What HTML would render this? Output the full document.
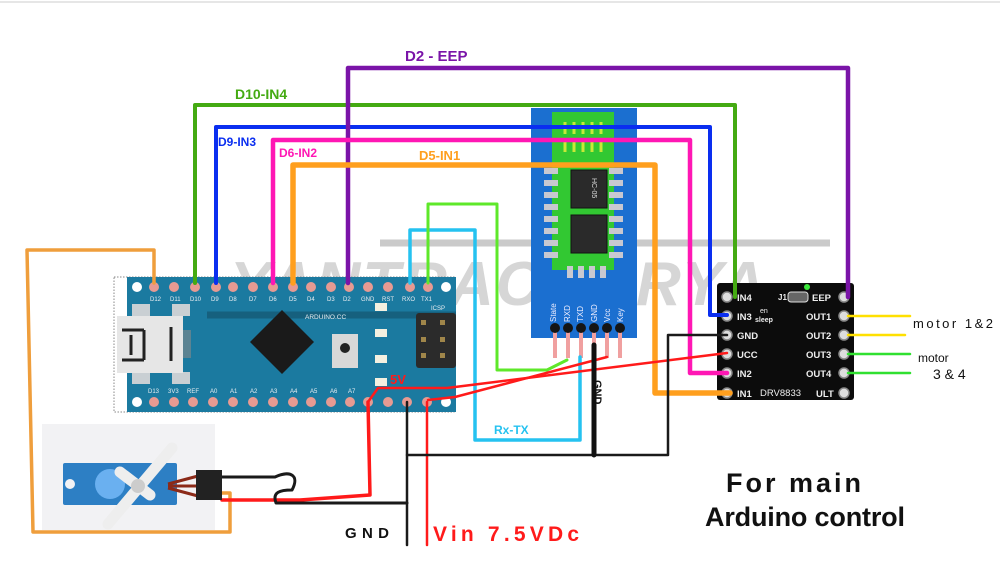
<!DOCTYPE html>
<html><head><meta charset="utf-8"><style>
html,body{margin:0;padding:0;background:#fff;}
svg{display:block}
text{font-family:"Liberation Sans",sans-serif}
</style></head><body>
<svg width="1000" height="564" viewBox="0 0 1000 564" xmlns="http://www.w3.org/2000/svg">
<rect width="1000" height="564" fill="#fff"/>
<line x1="0" y1="2" x2="1000" y2="2" stroke="#ccc" stroke-width="1"/>

<!-- watermark -->
<line x1="380" y1="243" x2="830" y2="243" stroke="#bdbdbd" stroke-width="7" opacity="0.8"/>
<text x="230" y="305" font-size="62" font-weight="bold" font-style="italic" fill="#cfcfcf" opacity="0.85" letter-spacing="2">YANTRACHARYA</text>

<!-- Arduino Nano -->
<rect x="114" y="277" width="340" height="135" fill="none" stroke="#888" stroke-dasharray="1.5,1.5" stroke-width="1"/>
<rect x="127" y="277" width="329" height="135" fill="#1b7aa0"/>
<line x1="207" y1="315" x2="456" y2="315" stroke="#16607e" stroke-width="7"/>
<rect x="132" y="304" width="18" height="12" fill="#c9cfd3"/><rect x="172" y="304" width="18" height="12" fill="#c9cfd3"/>
<rect x="132" y="372" width="18" height="12" fill="#c9cfd3"/><rect x="172" y="372" width="18" height="12" fill="#c9cfd3"/>
<rect x="117" y="316" width="66" height="57" fill="#e6e6e6"/>
<path d="M122 330h22M122 360h22M144 330v30M131 335v20M171 327v34" stroke="#222" stroke-width="3" fill="none"/>
<rect x="183" y="330" width="8" height="28" fill="#888" opacity="0.6"/>
<polygon points="250,342 282,310 314,342 282,374" fill="#1a1a1a"/>
<rect x="332" y="334" width="26" height="34" fill="#d8d8d8"/><circle cx="345" cy="348" r="5" fill="#222"/>
<rect x="375" y="303" width="12" height="8" fill="#f4f0e0"/><rect x="375" y="329" width="12" height="8" fill="#f4f0e0"/>
<rect x="375" y="355" width="12" height="8" fill="#f4f0e0"/><rect x="375" y="378" width="12" height="8" fill="#f4f0e0"/>
<rect x="416" y="313" width="40" height="55" rx="3" fill="#2b2b2b"/>
<g fill="#a0864a"><rect x="421" y="320" width="5" height="5"/><rect x="440" y="320" width="5" height="5"/><rect x="421" y="337" width="5" height="5"/><rect x="440" y="337" width="5" height="5"/><rect x="421" y="353" width="5" height="5"/><rect x="440" y="353" width="5" height="5"/></g>
<text x="305" y="319" font-size="6.5" fill="#e8eef2">ARDUINO.CC</text>
<text x="431" y="310" font-size="6" fill="#e8eef2">ICSP</text>
<g font-size="6" fill="#e8eef2">
<text x="150" y="301">D12</text><text x="170" y="301">D11</text><text x="190" y="301">D10</text><text x="211" y="301">D9</text><text x="229" y="301">D8</text><text x="249" y="301">D7</text><text x="269" y="301">D6</text><text x="289" y="301">D5</text><text x="307" y="301">D4</text><text x="327" y="301">D3</text><text x="343" y="301">D2</text><text x="361" y="301">GND</text><text x="382" y="301">RST</text><text x="402" y="301">RXO</text><text x="421" y="301">TX1</text>
<text x="148" y="393">D13</text><text x="168" y="393">3V3</text><text x="187" y="393">REF</text><text x="210" y="393">A0</text><text x="230" y="393">A1</text><text x="250" y="393">A2</text><text x="270" y="393">A3</text><text x="290" y="393">A4</text><text x="310" y="393">A5</text><text x="330" y="393">A6</text><text x="348" y="393">A7</text>
</g>
<g fill="#e79a92">
<circle cx="154" cy="287" r="5"/><circle cx="174" cy="287" r="5"/><circle cx="195" cy="287" r="5"/><circle cx="216" cy="287" r="5"/><circle cx="233" cy="287" r="5"/><circle cx="253" cy="287" r="5"/><circle cx="273" cy="287" r="5"/><circle cx="293" cy="287" r="5"/><circle cx="311" cy="287" r="5"/><circle cx="331" cy="287" r="5"/><circle cx="349" cy="287" r="5"/><circle cx="368" cy="287" r="5"/><circle cx="388" cy="287" r="5"/><circle cx="410" cy="287" r="5"/><circle cx="428" cy="287" r="5"/>
<circle cx="154" cy="402" r="5"/><circle cx="174" cy="402" r="5"/><circle cx="193" cy="402" r="5"/><circle cx="213" cy="402" r="5"/><circle cx="233" cy="402" r="5"/><circle cx="253" cy="402" r="5"/><circle cx="273" cy="402" r="5"/><circle cx="293" cy="402" r="5"/><circle cx="311" cy="402" r="5"/><circle cx="331" cy="402" r="5"/><circle cx="350" cy="402" r="5"/><circle cx="368" cy="402" r="5"/><circle cx="388" cy="402" r="5"/><circle cx="407" cy="402" r="5"/><circle cx="427" cy="402" r="5"/>
</g>
<circle cx="137" cy="287" r="5" fill="#fff"/><circle cx="446" cy="287" r="5" fill="#fff"/>
<circle cx="137" cy="402" r="5" fill="#fff"/><circle cx="446" cy="402" r="5" fill="#fff"/>

<!-- HC-05 -->
<rect x="531" y="108" width="106" height="230" fill="#1b6fd0"/>
<rect x="552" y="112" width="62" height="60" fill="#32c832"/>
<g stroke="#c8e838" stroke-width="3" fill="none"><path d="M565 122v12M574 122v12M583 122v12M592 122v12M601 122v12M565 140v12M574 140v12M583 140v12M592 140v12M601 140v12"/></g>
<rect x="552" y="160" width="62" height="110" fill="#32c832"/>
<g fill="#c8c8d0">
<rect x="544" y="168" width="14" height="6"/><rect x="544" y="180" width="14" height="6"/><rect x="544" y="192" width="14" height="6"/><rect x="544" y="204" width="14" height="6"/><rect x="544" y="216" width="14" height="6"/><rect x="544" y="228" width="14" height="6"/><rect x="544" y="240" width="14" height="6"/><rect x="544" y="252" width="14" height="6"/>
<rect x="609" y="168" width="14" height="6"/><rect x="609" y="180" width="14" height="6"/><rect x="609" y="192" width="14" height="6"/><rect x="609" y="204" width="14" height="6"/><rect x="609" y="216" width="14" height="6"/><rect x="609" y="228" width="14" height="6"/><rect x="609" y="240" width="14" height="6"/><rect x="609" y="252" width="14" height="6"/>
<rect x="567" y="266" width="6" height="12"/><rect x="578" y="266" width="6" height="12"/><rect x="589" y="266" width="6" height="12"/><rect x="600" y="266" width="6" height="12"/>
</g>
<rect x="571" y="170" width="36" height="38" fill="#2a2a2a" stroke="#111"/>
<rect x="571" y="215" width="36" height="38" fill="#2a2a2a" stroke="#111"/>
<text x="0" y="0" font-size="7" fill="#ddd" transform="translate(592,178) rotate(90)">HC-05</text>
<g font-size="8" fill="#eef" >
<text transform="translate(556,322) rotate(-90)">State</text><text transform="translate(570,322) rotate(-90)">RXD</text><text transform="translate(583,322) rotate(-90)">TXD</text><text transform="translate(597,322) rotate(-90)">GND</text><text transform="translate(610,322) rotate(-90)">Vcc</text><text transform="translate(623,322) rotate(-90)">Key</text>
</g>
<g fill="#f0a0a0"><rect x="553" y="330" width="4" height="28"/><rect x="566" y="330" width="4" height="28"/><rect x="579" y="330" width="4" height="28"/><rect x="592" y="330" width="4" height="28"/><rect x="605" y="330" width="4" height="28"/><rect x="618" y="330" width="4" height="28"/></g>
<g fill="#151515"><circle cx="555" cy="328" r="5"/><circle cx="568" cy="328" r="5"/><circle cx="581" cy="328" r="5"/><circle cx="594" cy="328" r="5"/><circle cx="607" cy="328" r="5"/><circle cx="620" cy="328" r="5"/></g>

<!-- DRV8833 -->
<rect x="717" y="283" width="137" height="117" rx="3" fill="#0c0c0c"/>
<g fill="#ddd" stroke="#888" stroke-width="1.5">
<circle cx="727" cy="297" r="5"/><circle cx="727" cy="316" r="5"/><circle cx="727" cy="335" r="5"/><circle cx="727" cy="354" r="5"/><circle cx="727" cy="373" r="5"/><circle cx="727" cy="393" r="5"/>
<circle cx="844" cy="297" r="5"/><circle cx="844" cy="316" r="5"/><circle cx="844" cy="335" r="5"/><circle cx="844" cy="354" r="5"/><circle cx="844" cy="373" r="5"/><circle cx="844" cy="393" r="5"/>
</g>
<g font-size="9.5" font-weight="bold" fill="#eee">
<text x="737" y="301">IN4</text><text x="737" y="320">IN3</text><text x="737" y="339">GND</text><text x="737" y="358">UCC</text><text x="737" y="377">IN2</text><text x="737" y="397">IN1</text>
<text x="812" y="301">EEP</text><text x="806" y="320">OUT1</text><text x="806" y="339">OUT2</text><text x="806" y="358">OUT3</text><text x="806" y="377">OUT4</text><text x="816" y="397">ULT</text>
<text x="760" y="396" font-weight="normal">DRV8833</text>
<text x="778" y="300" font-size="8">J1</text>
</g>
<rect x="788" y="292" width="20" height="10" rx="3" fill="#666" stroke="#ddd"/>
<text x="760" y="313" font-size="7" fill="#eee">en</text><text x="755" y="322" font-size="7" fill="#eee" font-weight="bold">sleep</text>
<circle cx="807" cy="287" r="3" fill="#3ce83c"/>

<!-- wires -->
<g fill="none" stroke-linecap="round" stroke-linejoin="round">
<path d="M154 283 V250 H27 L33 532 H230 V493 H216" stroke="#ef9e3c" stroke-width="3.5"/>
<path d="M195 283 V105 H735 V297" stroke="#44aa12" stroke-width="4"/>
<path d="M216 283 V127 H710 V315 H727" stroke="#0a2ef0" stroke-width="4"/>
<path d="M348 283 V68 H848 V297" stroke="#7a14a8" stroke-width="4.5"/>
<path d="M273 283 V140 H690 V373 H727" stroke="#ff17b4" stroke-width="4.5"/>
<path d="M293 283 V165 H655 V393 H730" stroke="#ff9f1e" stroke-width="5.5"/>
<path d="M410 283 V230 H475 V440 H580 V357" stroke="#25c2f0" stroke-width="3.5"/>
<path d="M428 283 V204 H497 V370 L547 370 L567 360" stroke="#5ee82a" stroke-width="3"/>
<path d="M368 402 L378 388 H447 L727 353" stroke="#ff1a1a" stroke-width="2.5"/>
<path d="M428 400 L455 397 L607 357" stroke="#ff1a1a" stroke-width="2.5"/>
<path d="M368 402 L370 495 L300 500 H222" stroke="#ff1a1a" stroke-width="3.5"/>
<path d="M427 402 V545" stroke="#ff1a1a" stroke-width="2.5"/>
<path d="M407 402 V545" stroke="#1a1a1a" stroke-width="2.5"/>
<path d="M407 455 H668 V335 H727" stroke="#1a1a1a" stroke-width="2.5"/>
<path d="M594 345 V455" stroke="#111" stroke-width="5"/>
<path d="M222 477 H275 C290 470 300 475 292 490 C280 490 272 492 276 503 H407" stroke="#1a1a1a" stroke-width="3"/>
<path d="M848 316 H910 M848 335 H905" stroke="#ffe000" stroke-width="2.5"/>
<path d="M848 354 H910 M848 373 H910" stroke="#30e030" stroke-width="2.5"/>
</g>

<!-- servo -->
<rect x="42" y="424" width="173" height="106" fill="#f2f2f4"/>
<rect x="63" y="463" width="114" height="42" rx="2" fill="#2d7fc4"/>
<circle cx="70" cy="484" r="5" fill="#f2f2f4"/>
<circle cx="110" cy="484" r="15" fill="#6ab0f0"/>
<path d="M108 524 L172 448" stroke="#eee" stroke-width="11" stroke-linecap="round"/>
<path d="M120 472 L150 495" stroke="#eee" stroke-width="11" stroke-linecap="round"/>
<circle cx="138" cy="486" r="7" fill="#ccc"/>
<path d="M168 484 L198 476 M168 486 L198 486 M168 488 L198 496" stroke="#8b2a18" stroke-width="3"/>
<rect x="196" y="470" width="26" height="30" fill="#222"/>

<!-- labels -->
<g font-family="'Liberation Sans',sans-serif" font-weight="bold">
<text x="405" y="61" font-size="15" fill="#7a14a8">D2 - EEP</text>
<text x="235" y="99" font-size="14" fill="#44aa12">D10-IN4</text>
<text x="218" y="146" font-size="12" fill="#0a2ef0">D9-IN3</text>
<text x="279" y="157" font-size="12" fill="#ff17b4">D6-IN2</text>
<text x="419" y="160" font-size="13" fill="#ff9f1e">D5-IN1</text>
<text x="494" y="434" font-size="12" fill="#25c2f0">Rx-TX</text>
<text x="390" y="384" font-size="13" fill="#ff1a1a">5V</text>
<text x="345" y="538" font-size="15" fill="#111" textLength="44">GND</text>
<text x="433" y="541" font-size="21" fill="#ff1a1a" textLength="146">Vin 7.5VDc</text>
<text transform="translate(594,380) rotate(90)" font-size="11" fill="#111">GND</text>
</g>
<text x="913" y="328" font-size="13" fill="#111" textLength="80">motor 1&amp;2</text>
<text x="918" y="362" font-size="12" fill="#111">motor</text>
<text x="933" y="379" font-size="14" fill="#111">3 &amp; 4</text>
<text x="726" y="492" font-size="27" font-weight="bold" fill="#111" textLength="135">For main</text>
<text x="705" y="526" font-size="27" font-weight="bold" fill="#111" textLength="200">Arduino control</text>
</svg>
</body></html>
